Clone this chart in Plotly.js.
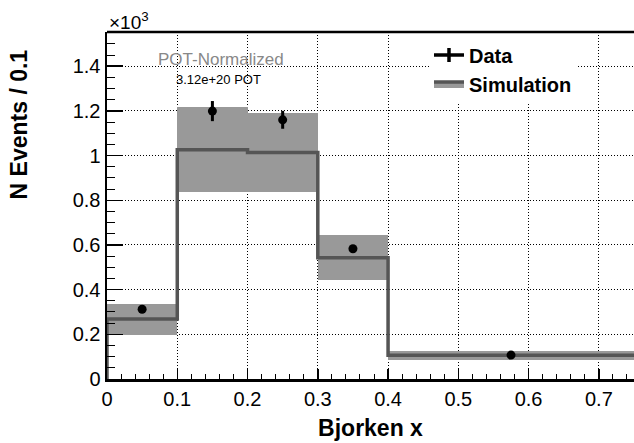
<!DOCTYPE html>
<html>
<head>
<meta charset="utf-8">
<script src="https://cdn.plot.ly/plotly-3.0.1.min.js"></script>
<style>html,body{margin:0;padding:0;background:#fff;}#plot{width:634px;height:443px;}</style>
</head>
<body>
<div id="plot"></div>
<script>
// Bin edges (Bjorken x) and contents (N events / 0.1)
const binEdges = [0, 0.1, 0.2, 0.3, 0.4, 0.75];
const simValues = [268, 1026, 1014, 543, 106];
const simBandLow = [197, 838, 838, 443, 84];
const simBandHigh = [335, 1217, 1190, 644, 124];
const dataX = [0.05, 0.15, 0.25, 0.35, 0.575];
const dataY = [312, 1199, 1160, 583, 107];
const dataErr = [12, 45, 40, 14, 5];
const yTickVals = [0, 200, 400, 600, 800, 1000, 1200, 1400];
const yTickText = ["0", "0.2", "0.4", "0.6", "0.8", "1", "1.2", "1.4"];
const xTickVals = [0, 0.1, 0.2, 0.3, 0.4, 0.5, 0.6, 0.7];
const xTickText = ["0", "0.1", "0.2", "0.3", "0.4", "0.5", "0.6", "0.7"];

const FONT = "Liberation Sans, Arial, Helvetica, sans-serif";

// band as bars
const centers = [], widths = [], heights = [];
for (let i = 0; i < simValues.length; i++) {
  centers.push((binEdges[i] + binEdges[i + 1]) / 2);
  widths.push(binEdges[i + 1] - binEdges[i]);
  heights.push(simBandHigh[i] - simBandLow[i]);
}
// step line
const stepX = [binEdges[0]], stepY = [0];
for (let i = 0; i < simValues.length; i++) { stepX.push(binEdges[i]); stepY.push(simValues[i]); }
stepX.push(binEdges[binEdges.length - 1]); stepY.push(simValues[simValues.length - 1]);

const traces = [
  {type: 'bar', x: centers, y: heights, base: simBandLow, width: widths,
   marker: {color: '#999999', line: {width: 0}}, showlegend: false, hoverinfo: 'skip'},
  {type: 'scatter', mode: 'lines', x: stepX, y: stepY, line: {shape: 'hv', color: '#555555', width: 3.5},
   showlegend: false, hoverinfo: 'skip'},
  {type: 'scatter', mode: 'markers', x: dataX, y: dataY,
   marker: {color: '#000', size: 9},
   error_y: {type: 'data', array: dataErr, color: '#000', thickness: 3, width: 0},
   showlegend: false},
  // legend entries
  {type: 'scatter', mode: 'lines+markers', x: [null], y: [null], name: '<b>Data</b>',
   line: {color: '#000', width: 3.5}, marker: {color: '#000', size: 10, symbol: 'line-ns', line: {width: 3.5, color: '#000'}}},
  {type: 'scatter', mode: 'lines', x: [null], y: [null], name: '<b>Simulation</b>', fill: 'toself',
   fillcolor: '#999999', line: {color: '#555555', width: 3.5}}
];

const layout = {
  width: 634, height: 443,
  margin: {l: 107, r: 0, t: 32, b: 64, pad: 0},
  paper_bgcolor: '#fff', plot_bgcolor: '#fff',
  font: {family: FONT, color: '#000'},
  barmode: 'overlay', bargap: 0,
  xaxis: {
    range: [0, 0.75], tickvals: xTickVals, ticktext: xTickText,
    showline: true, linecolor: '#000', linewidth: 2.5,
    ticks: 'inside', ticklen: 10, tickwidth: 1.5, tickcolor: '#000',
    minor: {ticks: 'inside', ticklen: 5, dtick: 0.02, tickcolor: '#000', tickwidth: 1, showgrid: false},
    showgrid: true, gridcolor: '#000', griddash: '1px,2px', gridwidth: 1,
    zeroline: false,
    tickfont: {size: 20, family: FONT},
    title: {text: '<b>Bjorken x</b>', font: {size: 23, family: FONT}, standoff: 12}
  },
  yaxis: {
    range: [0, 1553], tickvals: yTickVals, ticktext: yTickText,
    showline: true, linecolor: '#000', linewidth: 2.5,
    ticks: 'inside', ticklen: 16, tickwidth: 1.5, tickcolor: '#000',
    minor: {ticks: 'inside', ticklen: 8, dtick: 50, tickcolor: '#000', tickwidth: 1, showgrid: false},
    showgrid: true, gridcolor: '#000', griddash: '1px,2px', gridwidth: 1,
    zeroline: false,
    tickfont: {size: 20, family: FONT}
  },
  legend: {
    x: 0.611, y: 0.99, xanchor: 'left', yanchor: 'top',
    bgcolor: '#fff', borderwidth: 0,
    font: {size: 20, family: FONT},
    itemwidth: 30, tracegroupgap: 0
  },
  shapes: [
    {type: 'line', xref: 'paper', yref: 'paper', x0: 0, x1: 1, y0: 1, y1: 1, line: {color: '#000', width: 2.5}}
  ],
  annotations: [
    {text: '<b>N Events / 0.1</b>', xref: 'paper', yref: 'paper', x: -0.168, y: 0.735, xanchor: 'center', yanchor: 'middle',
     textangle: -90, showarrow: false, font: {size: 23, family: FONT}},
    {text: '×10<sup>3</sup>', xref: 'paper', yref: 'paper', x: 0, y: 1, xanchor: 'left', yanchor: 'bottom',
     showarrow: false, font: {size: 19, family: FONT}, yshift: -3},
    {text: 'POT-Normalized', xref: 'x', yref: 'paper', x: 0.162, y: 0.92, xanchor: 'center', yanchor: 'middle',
     showarrow: false, font: {size: 17, family: FONT, color: '#888888'}},
    {text: '3.12e+20 POT', xref: 'x', yref: 'paper', x: 0.159, y: 0.862, xanchor: 'center', yanchor: 'middle',
     showarrow: false, font: {size: 13, family: FONT, color: '#000'}}
  ]
};

Plotly.newPlot('plot', traces, layout, {displayModeBar: false, staticPlot: true});
</script>
</body>
</html>
